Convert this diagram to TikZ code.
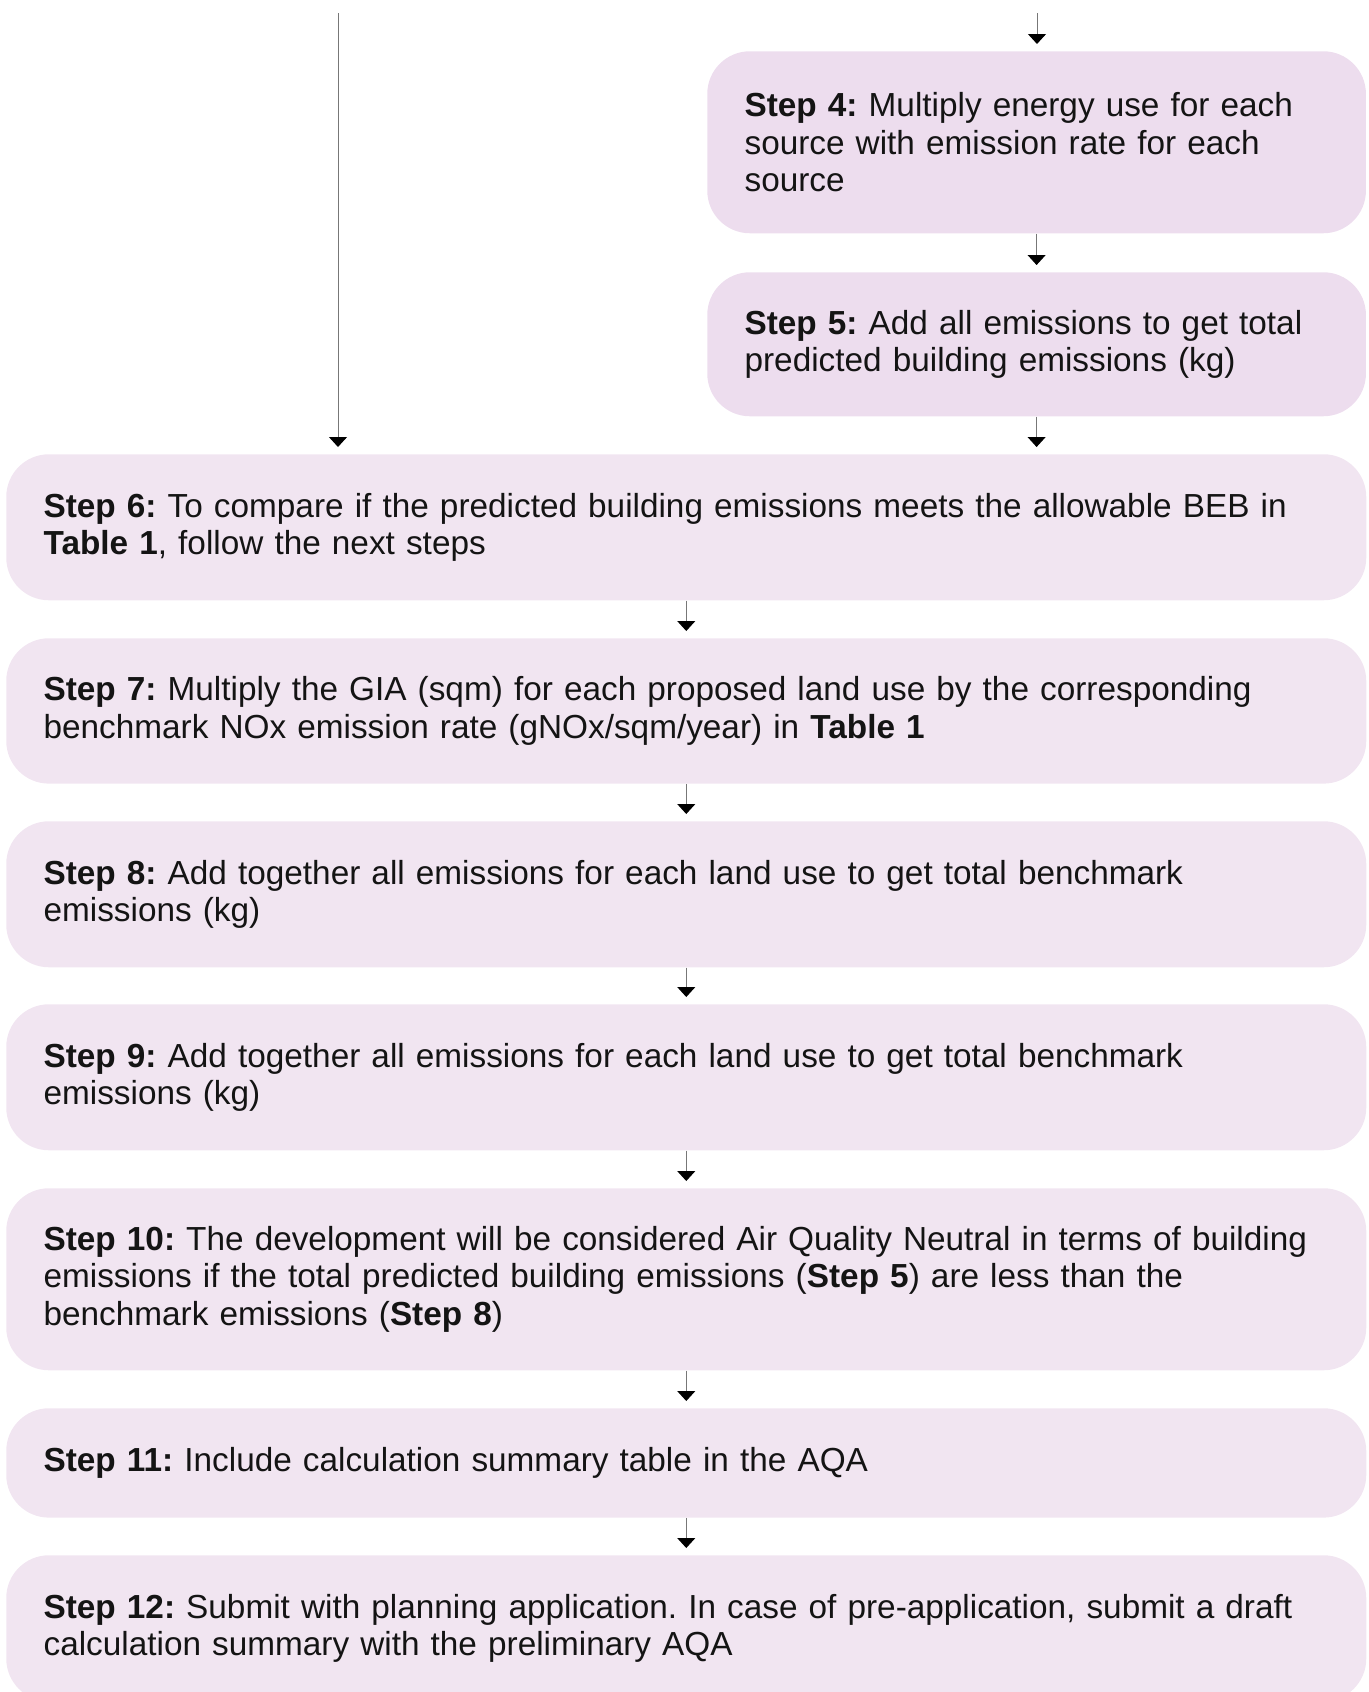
\documentclass[tikz,border=0pt]{standalone}
\usepackage{fontspec}
\setmainfont{Liberation Sans}
\usetikzlibrary{arrows.meta}
\frenchspacing

\definecolor{boxpink}{HTML}{F1E5F1}
\definecolor{boxmauve}{HTML}{EDDDEE}
\definecolor{linegray}{HTML}{777777}

\tikzset{
  stepbox/.style={rounded corners=32pt, fill=boxpink, inner xsep=28pt, inner ysep=0pt,
    align=left, anchor=north west, text=black!92,
    font=\fontsize{25}{28.3}\selectfont},
  wide/.style={stepbox, text width=964pt},
  narrow/.style={stepbox, fill=boxmauve, text width=438pt},
  flow/.style={draw=linegray, line width=0.75pt,
    -{Triangle[width=13.5pt,length=7.5pt,color=black]}, shorten >=5.25pt}
}

\begin{document}
\begin{tikzpicture}[x=0.75pt,y=-0.75pt]
\useasboundingbox (0,0) rectangle (1368,1692);

\coordinate (topL) at (338,13);
\coordinate (topR) at (1037,13);

\node[narrow, minimum height=136.5pt] (s4) at (707,51)
  {\textbf{Step 4:} Multiply energy use for each\\source with emission rate for each\\source};
\node[narrow, minimum height=108pt] (s5) at (707,272)
  {\textbf{Step 5:} Add all emissions to get total\\predicted building emissions (kg)};

\node[wide, minimum height=109.5pt] (s6) at (6,454)
  {\textbf{Step 6:} To compare if the predicted building emissions meets the allowable BEB in\\\textbf{Table 1}, follow the next steps};
\node[wide, minimum height=109pt] (s7) at (6,638)
  {\textbf{Step 7:} Multiply the GIA (sqm) for each proposed land use by the corresponding\\benchmark NOx emission rate (gNOx/sqm/year) in \textbf{Table 1}};
\node[wide, minimum height=109.5pt] (s8) at (6,821)
  {\textbf{Step 8:} Add together all emissions for each land use to get total benchmark\\emissions (kg)};
\node[wide, minimum height=109.5pt] (s9) at (6,1004)
  {\textbf{Step 9:} Add together all emissions for each land use to get total benchmark\\emissions (kg)};
\node[wide, minimum height=136.5pt] (s10) at (6,1188)
  {\textbf{Step 10:} The development will be considered Air Quality Neutral in terms of building\\emissions if the total predicted building emissions (\textbf{Step 5}) are less than the\\benchmark emissions (\textbf{Step 8})};
\node[wide, minimum height=82pt] (s11) at (6,1408)
  {\textbf{Step 11:} Include calculation summary table in the AQA};
\node[wide, minimum height=109.5pt] (s12) at (6,1555)
  {\textbf{Step 12:} Submit with planning application. In case of pre-application, submit a draft\\calculation summary with the preliminary AQA};

% connectors
\draw[flow] (topL) -- (topL |- s6.north);
\draw[flow] (topR) -- (topR |- s4.north);
\draw[flow] (s4.south) -- (s5.north);
\draw[flow] (s5.south) -- (s5.south |- s6.north);
\foreach \a/\b in {s6/s7,s7/s8,s8/s9,s9/s10,s10/s11,s11/s12}
  \draw[flow] (\a.south) -- (\b.north);

\end{tikzpicture}
\end{document}
